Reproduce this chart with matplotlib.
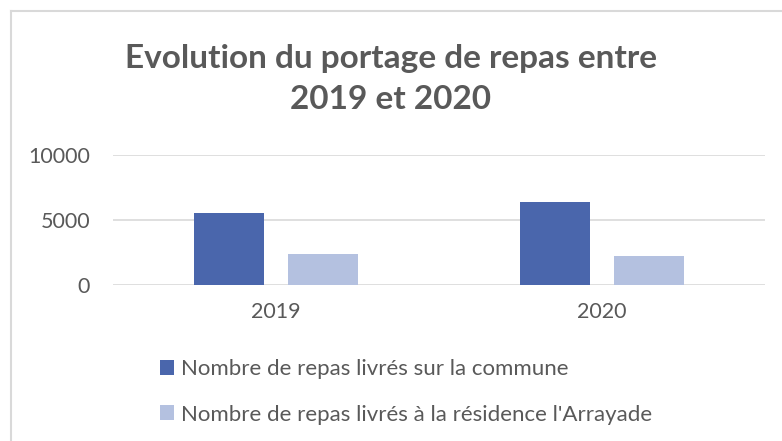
import matplotlib.pyplot as plt
import numpy as np
from matplotlib.lines import Line2D

annees = ['2019', '2020']
commune = [5550, 6390]
residence = [2390, 2250]
noms = ['Nombre de repas livrés sur la commune',
        "Nombre de repas livrés à la résidence l'Arrayade"]
yticks = [0, 5000, 10000]

gris = '#595959'
bleu = '#4A66AC'
bleu_clair = '#B4C1E0'

plt.rcParams['font.family'] = ['Lato', 'DejaVu Sans']

fig = plt.figure(figsize=(7.82, 4.41), dpi=100)
ax = fig.add_axes([113/782, 1-285/441, (765-113)/782, 130/441])

x = np.arange(len(annees))
w = 0.215
b1 = ax.bar(x - 0.145, commune, w, color=bleu, label=noms[0], zorder=3)
b2 = ax.bar(x + 0.145, residence, w, color=bleu_clair, label=noms[1], zorder=3)

ax.set_xlim(-0.5, 1.5)
ax.set_ylim(0, 10000)
ax.set_yticks(yticks)
ax.set_xticks(x)
ax.set_xticklabels(annees)
ax.tick_params(axis='both', length=0, labelsize=15.5, colors=gris)
ax.tick_params(axis='y', pad=16.5)
ax.tick_params(axis='x', pad=12)
ax.yaxis.grid(True, color='#d9d9d9', linewidth=1.2, zorder=0)
ax.set_axisbelow(True)
for s in ax.spines.values():
    s.set_visible(False)

fig.text(0.5, 1-79/441, 'Evolution du portage de repas entre\n2019 et 2020',
         ha='center', va='center', fontsize=24, fontweight='bold', color=gris,
         linespacing=1.5)

leg = fig.legend(handles=[b1, b2], loc='upper left',
                 bbox_to_anchor=(140/782, 1-339/441), frameon=False,
                 fontsize=16, labelcolor=gris, handlelength=0.65,
                 handleheight=0.65, handletextpad=0.3, labelspacing=1.15)

# bordure du graphique
fig.add_artist(Line2D([11/782, 1], [1-11/441, 1-11/441], color='#d9d9d9', linewidth=1.5))
fig.add_artist(Line2D([11/782, 11/782], [0, 1-11/441], color='#d9d9d9', linewidth=1.5))

fig.savefig('out.png', dpi=100)
